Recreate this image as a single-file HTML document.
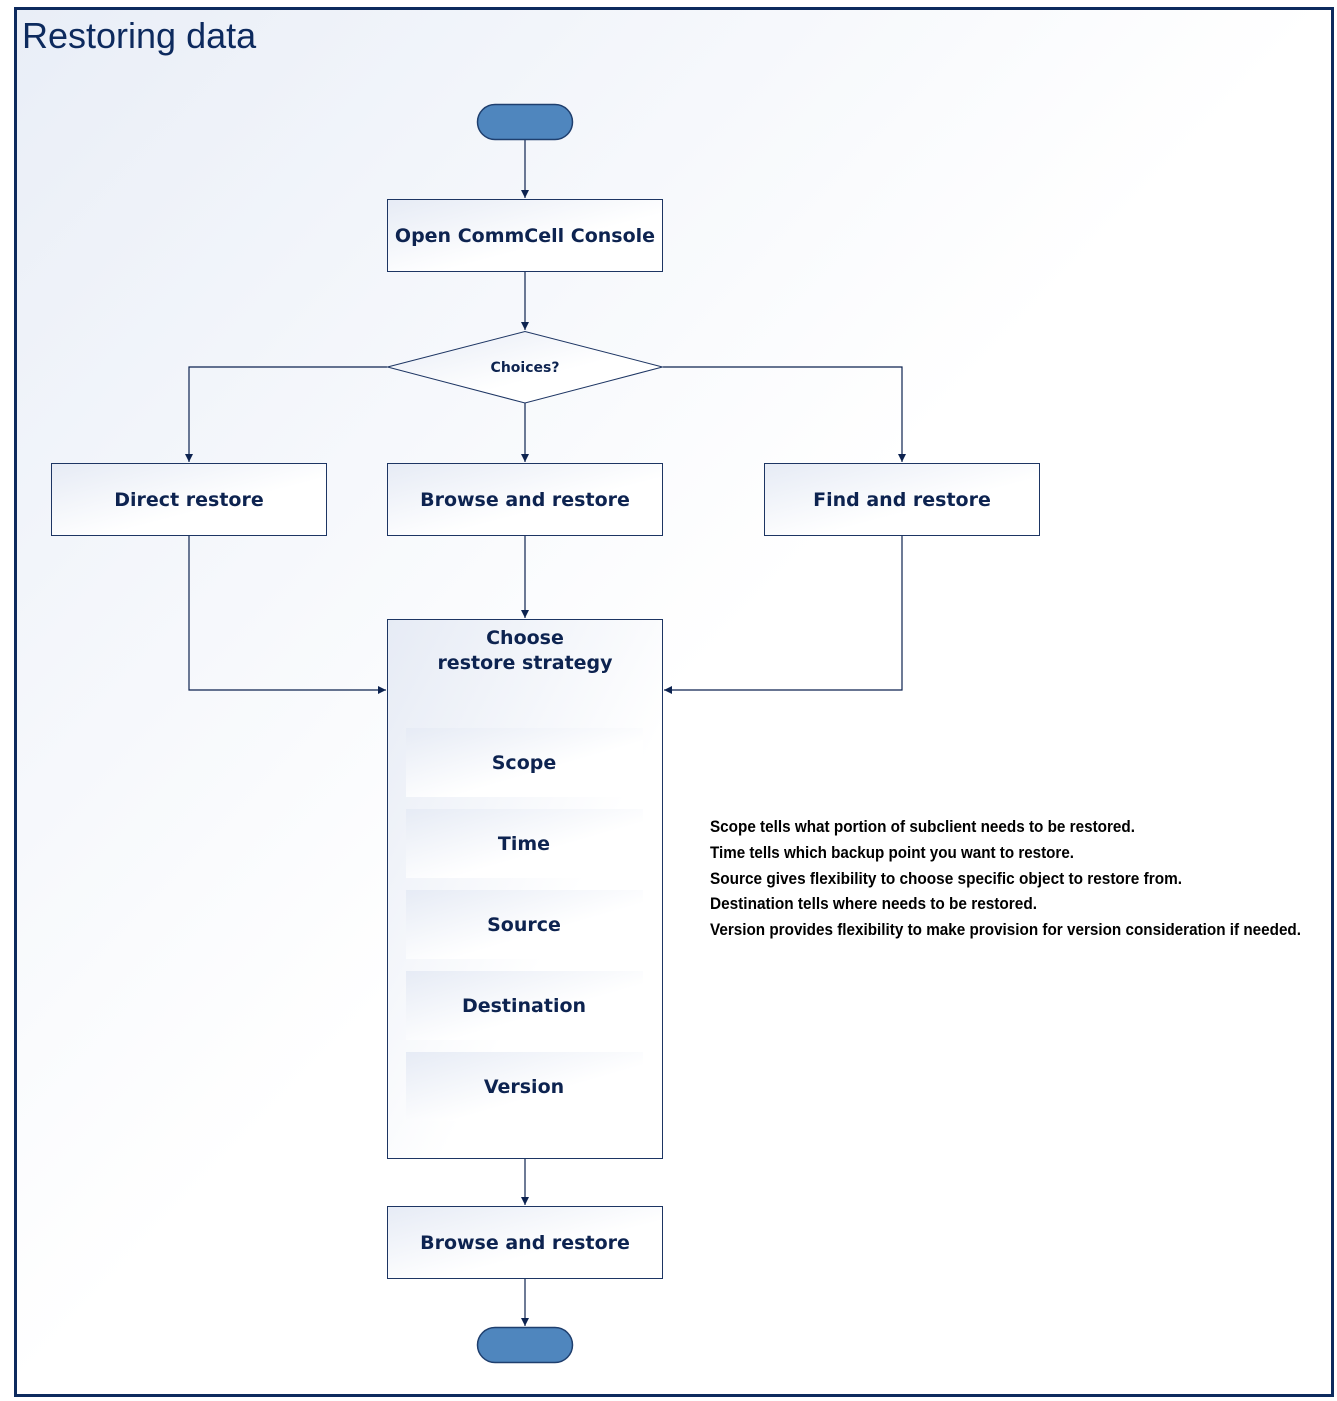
<!DOCTYPE html>
<html><head><meta charset="utf-8"><style>
html,body{margin:0;padding:0;background:#fff;}
svg{display:block;}
.b{font-family:"DejaVu Sans","Liberation Sans",sans-serif;font-weight:bold;fill:#0d2350;text-anchor:middle;}
</style></head><body>
<svg width="1337" height="1401" viewBox="0 0 1337 1401" xmlns="http://www.w3.org/2000/svg">
<defs>
<linearGradient id="bg" x1="0" y1="0" x2="1" y2="1">
<stop offset="0" stop-color="#e9eef7"/><stop offset="0.5" stop-color="#ffffff"/><stop offset="1" stop-color="#ffffff"/>
</linearGradient>
<linearGradient id="bx" x1="0" y1="0" x2="1" y2="1">
<stop offset="0" stop-color="#e6ebf5"/><stop offset="0.6" stop-color="#ffffff"/>
</linearGradient>
<marker id="a" markerWidth="10" markerHeight="10" refX="8" refY="4" orient="auto" markerUnits="userSpaceOnUse">
<path d="M0,0 L8,4 L0,8 z" fill="#0d2350"/>
</marker>
</defs>
<rect x="15.5" y="8.5" width="1317" height="1387" fill="url(#bg)" stroke="#0d2a5e" stroke-width="3"/>
<text x="22" y="48" font-family="Liberation Sans, sans-serif" font-size="36" fill="#0d2a5e">Restoring data</text>

<g stroke="#0d2350" stroke-width="1.2" fill="none">
<line x1="525" y1="139" x2="525" y2="198" marker-end="url(#a)"/>
<line x1="525" y1="271" x2="525" y2="330" marker-end="url(#a)"/>
<polyline points="387,367 189,367 189,462" marker-end="url(#a)"/>
<polyline points="663,367 902,367 902,462" marker-end="url(#a)"/>
<line x1="525" y1="403" x2="525" y2="462" marker-end="url(#a)"/>
<line x1="525" y1="535" x2="525" y2="618" marker-end="url(#a)"/>
<polyline points="189,535 189,690 386,690" marker-end="url(#a)"/>
<polyline points="902,535 902,690 664,690" marker-end="url(#a)"/>
<line x1="525" y1="1158" x2="525" y2="1205" marker-end="url(#a)"/>
<line x1="525" y1="1278" x2="525" y2="1326" marker-end="url(#a)"/>
</g>

<rect x="477.5" y="104.5" width="95" height="35" rx="17.5" fill="#4f86be" stroke="#1f3f6e" stroke-width="1.5"/>
<rect x="477.5" y="1327.5" width="95" height="35" rx="17.5" fill="#4f86be" stroke="#1f3f6e" stroke-width="1.5"/>

<g stroke="#1d3563" stroke-width="1" fill="url(#bx)">
<rect x="387.5" y="199.5" width="275" height="72"/>
<polygon points="387.5,367 525,331.5 662.5,367 525,403"/>
<rect x="51.5" y="463.5" width="275" height="72"/>
<rect x="387.5" y="463.5" width="275" height="72"/>
<rect x="764.5" y="463.5" width="275" height="72"/>
<rect x="387.5" y="619.5" width="275" height="539"/>
<rect x="387.5" y="1206.5" width="275" height="72"/>
</g>
<g fill="url(#bx)">
<rect x="406" y="728" width="237" height="69"/>
<rect x="406" y="809" width="237" height="69"/>
<rect x="406" y="890" width="237" height="69"/>
<rect x="406" y="971" width="237" height="69"/>
<rect x="406" y="1052" width="237" height="69"/>
</g>

<g class="b" font-size="19">
<text x="525" y="242">Open CommCell Console</text>
<text x="189" y="506">Direct restore</text>
<text x="525" y="506">Browse and restore</text>
<text x="902" y="506">Find and restore</text>
<text x="525" y="644">Choose</text>
<text x="525" y="669">restore strategy</text>
<text x="524" y="769">Scope</text>
<text x="524" y="850">Time</text>
<text x="524" y="931">Source</text>
<text x="524" y="1012">Destination</text>
<text x="524" y="1093">Version</text>
<text x="525" y="1249">Browse and restore</text>
</g>
<text class="b" x="525" y="372" font-size="14">Choices?</text>

<g font-family="Liberation Sans, sans-serif" font-size="17" font-weight="bold" fill="#000">
<text x="710" y="832" textLength="425" lengthAdjust="spacingAndGlyphs">Scope tells what portion of subclient needs to be restored.</text>
<text x="710" y="858" textLength="364" lengthAdjust="spacingAndGlyphs">Time tells which backup point you want to restore.</text>
<text x="710" y="884" textLength="472" lengthAdjust="spacingAndGlyphs">Source gives flexibility to choose specific object to restore from.</text>
<text x="710" y="909" textLength="327" lengthAdjust="spacingAndGlyphs">Destination tells where needs to be restored.</text>
<text x="710" y="935" textLength="591" lengthAdjust="spacingAndGlyphs">Version provides flexibility to make provision for version consideration if needed.</text>
</g>
</svg>
</body></html>
